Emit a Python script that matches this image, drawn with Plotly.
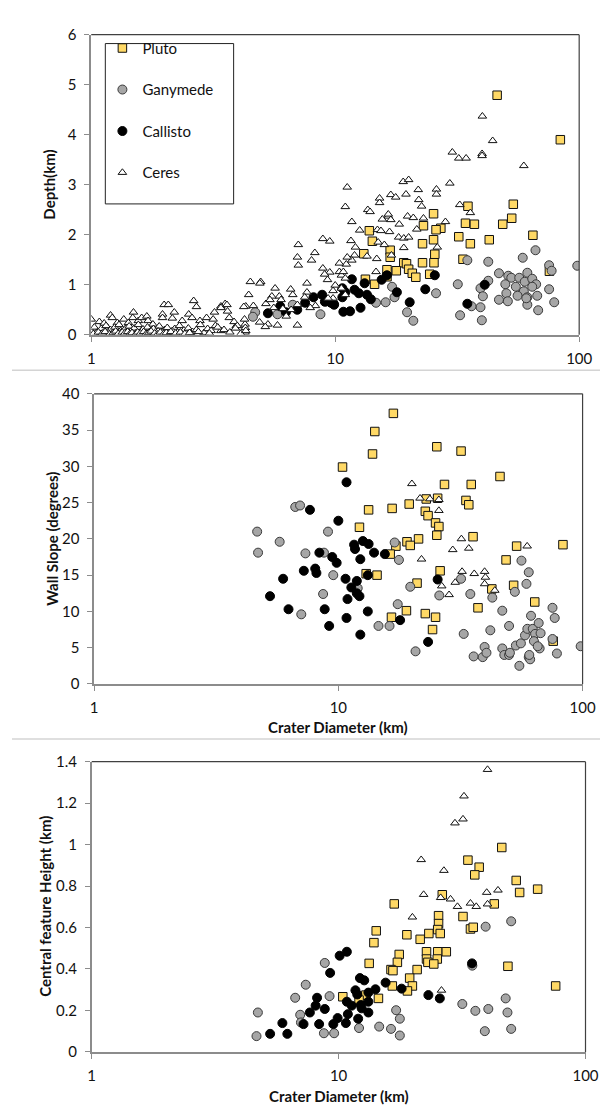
import plotly.graph_objects as go

# ---------------- Panel 1 : Depth (km) ----------------
p1_pluto_diam = [46.1, 83.7, 53.7, 35.0, 52.9, 48.6, 34.2, 37.2, 25.3, 23.0, 27.1, 25.9, 64.6, 32.1,
                 42.8, 25.3, 35.8, 22.8, 13.8, 14.2, 13.1, 16.8, 16.8, 25.6, 25.4, 22.8, 33.4, 19.1,
                 19.6, 20.0, 16.3, 17.8, 20.7, 16.3, 21.4, 24.4, 13.3, 14.5, 75.5]
p1_pluto_depth = [4.79, 3.90, 2.61, 2.57, 2.33, 2.21, 2.23, 2.21, 2.42, 2.18, 2.13, 2.10, 1.99, 1.96,
                  1.90, 1.90, 1.82, 1.82, 2.08, 1.87, 1.62, 1.69, 1.55, 1.61, 1.44, 1.44, 1.51, 1.44,
                  1.42, 1.31, 1.30, 1.28, 1.23, 1.16, 1.15, 1.21, 1.11, 1.01, 1.27]

p1_gany_diam = [98.2, 66.2, 58.7, 75.3, 77.1, 46.9, 51.2, 52.7, 56.8, 61.3, 59.8, 64.2, 66.6, 49.8,
                55.0, 59.3, 64.2, 50.3, 55.9, 61.3, 67.3, 75.3, 79.0, 46.9, 51.0, 61.3, 67.9, 60.7,
                42.4, 34.8, 31.8, 25.9, 39.4, 40.3, 39.4, 36.2, 32.5, 39.9, 42.4,
                19.7, 20.9, 17.1, 17.5, 16.1, 14.7, 8.7, 4.7, 4.6, 5.8, 6.7]
p1_gany_depth = [1.38, 1.69, 1.54, 1.39, 1.28, 1.23, 1.18, 1.14, 1.14, 1.24, 1.06, 1.12, 1.01, 1.01,
                 0.96, 0.87, 0.96, 0.83, 0.78, 0.75, 0.78, 0.91, 0.65, 0.70, 0.67, 0.60, 0.49, 0.73,
                 1.46, 1.49, 1.01, 0.83, 0.93, 0.77, 0.55, 0.57, 0.39, 0.29, 1.08,
                 0.45, 0.28, 0.96, 0.75, 0.65, 0.64, 0.41, 0.45, 0.36, 0.41, 0.60]

p1_call_diam = [5.30, 5.95, 6.28, 6.99, 7.53, 8.15, 8.84, 9.07, 9.6, 9.9, 10.8, 11.5, 11.7, 12.0,
                12.5, 12.7, 13.2, 13.5, 14.0, 15.5, 16.3, 17.9, 20.2, 23.4, 10.7, 11.0, 25.6, 34.8,
                41.0, 9.2, 9.85, 10.7]
p1_call_depth = [0.43, 0.57, 0.45, 0.50, 0.64, 0.75, 0.80, 0.66, 0.64, 0.60, 0.46, 0.47, 1.11, 0.90,
                 0.83, 0.54, 1.03, 0.80, 0.71, 1.10, 1.19, 0.85, 0.65, 0.91, 0.75, 0.85, 1.19, 0.62,
                 1.00, 0.67, 0.62, 0.93]

p1_ceres_diam = [40.1, 44.2, 40.0, 40.0, 30.2, 32.1, 34.4, 59.3, 29.5, 19.0, 20.0, 21.9, 26.0, 26.0,
                 19.5, 16.9, 17.7, 15.2, 15.2, 11.2, 11.0, 11.7, 22.0, 22.6, 32.4, 35.8, 13.6, 13.9,
                 28.3, 16.5, 16.9, 15.6, 19.8, 20.9, 23.0, 18.3, 16.7, 12.6, 11.6, 14.9, 15.4, 21.6,
                 18.2, 19.1, 20.0, 8.9, 9.5, 12.1, 15.0, 15.9, 19.1, 26.2, 14.8, 13.5, 12.0, 11.1,
                 10.4, 7.06, 8.25, 8.0, 7.0, 7.06, 8.9, 9.5, 10.4, 10.6, 11.0, 9.05, 7.66, 4.95,
                 5.67, 6.57, 5.90, 5.50, 6.70, 7.66, 7.50, 9.3, 10.6, 10.0, 9.8, 11.0, 9.8, 9.35,
                 8.3, 7.9, 7.0, 6.6, 6.3, 7.0, 5.8, 5.3, 5.17, 4.9, 6.1, 5.6, 5.2, 5.4, 6.0, 4.42,
                 4.49, 4.3, 4.27, 4.27, 3.93, 3.54, 3.4, 3.23, 3.4, 2.9, 14.7, 10.8, 11.7, 11.2,
                 16.5, 17.0,
                 1.0, 1.08, 1.13, 1.20, 1.22, 1.28, 1.36, 1.42, 1.49, 1.48, 1.56, 1.61, 1.69, 1.71,
                 1.79, 1.96, 1.99, 2.07, 1.96, 2.15, 2.19, 2.36, 2.51, 2.63, 2.70, 2.59, 2.79, 2.97,
                 3.20, 3.16, 3.40, 3.60, 3.62, 3.68, 3.85, 3.97, 4.22, 4.25, 4.28, 4.62, 4.91,
                 1.0, 1.03, 1.06, 1.1, 1.12, 1.15, 1.17, 1.2, 1.22, 1.25, 1.27, 1.3, 1.32, 1.35,
                 1.38, 1.4, 1.43, 1.45, 1.48, 1.5, 1.53, 1.56, 1.6, 1.63, 1.66, 1.7, 1.73, 1.77,
                 1.8, 1.85, 1.9, 1.95, 2.0, 2.05, 2.1, 2.15, 2.2, 2.25, 2.3, 2.4, 2.45, 2.5, 2.6,
                 2.7, 2.8, 2.9, 3.0, 3.1, 3.3, 3.5, 3.7, 3.9, 4.1, 4.3,
                 1.05, 1.18, 1.33, 1.45, 1.58, 1.75, 1.88, 2.02, 2.18, 2.35, 2.55, 2.75, 3.05,
                 1.02, 1.07, 1.11, 1.14, 1.19, 1.23, 1.26, 1.29, 1.34, 1.37, 1.41, 1.44, 1.47, 1.52,
                 1.55, 1.59, 1.64, 1.68, 1.72, 1.76, 1.82, 1.87, 1.92, 1.98, 2.03, 2.12, 2.22, 2.32,
                 2.42, 2.53]
p1_ceres_depth = [4.37, 3.88, 3.62, 3.58, 3.65, 3.53, 3.53, 3.38, 3.03, 3.06, 3.10, 2.90, 2.91, 2.81,
                  2.81, 2.80, 2.75, 2.73, 2.64, 2.95, 2.56, 2.26, 2.70, 2.57, 2.60, 2.44, 2.50, 2.46,
                  2.26, 2.37, 2.30, 2.31, 2.37, 2.34, 2.33, 2.21, 2.06, 2.09, 1.88, 2.10, 2.08, 2.11,
                  1.95, 1.93, 1.95, 1.92, 1.87, 1.75, 1.85, 1.80, 1.74, 1.75, 1.52, 1.57, 1.59, 1.41,
                  1.43, 1.80, 1.64, 1.49, 1.55, 1.39, 1.33, 1.25, 1.26, 1.19, 1.13, 1.21, 1.03, 1.06,
                  0.93, 0.91, 0.77, 0.77, 0.80, 0.85, 0.75, 1.10, 0.93, 0.99, 0.88, 0.80, 0.73, 0.73,
                  0.58, 0.54, 0.60, 0.50, 0.37, 0.19, 0.19, 0.21, 0.16, 0.25, 0.52, 0.54, 0.62, 0.70,
                  0.70, 0.80, 1.06, 0.57, 0.21, 0.05, 0.18, 0.62, 0.57, 0.18, 0.08, 0.01, 1.26, 1.26,
                  1.49, 1.55, 2.41, 1.59,
                  0.31, 0.26, 0.23, 0.39, 0.34, 0.24, 0.31, 0.24, 0.45, 0.34, 0.28, 0.34, 0.37, 0.28,
                  0.21, 0.41, 0.60, 0.60, 0.34, 0.33, 0.45, 0.28, 0.41, 0.68, 0.56, 0.34, 0.28, 0.34,
                  0.45, 0.31, 0.54, 0.60, 0.47, 0.34, 0.26, 0.18, 0.56, 0.31, 0.14, 0.58, 1.03,
                  0.08, 0.15, 0.05, 0.12, 0.03, 0.18, 0.07, 0.10, 0.02, 0.15, 0.05, 0.20, 0.08, 0.03,
                  0.12, 0.06, 0.17, 0.02, 0.09, 0.13, 0.04, 0.20, 0.07, 0.11, 0.02, 0.15, 0.05, 0.09,
                  0.12, 0.03, 0.17, 0.06, 0.10, 0.14, 0.02, 0.08, 0.12, 0.05, 0.18, 0.09, 0.03, 0.13,
                  0.06, 0.10, 0.20, 0.04, 0.12, 0.08, 0.15, 0.10, 0.05, 0.13, 0.02, 0.08,
                  0.04, 0.03, 0.05, 0.06, 0.02, 0.04, 0.07, 0.03, 0.05, 0.02, 0.04, 0.06, 0.03,
                  0.02, 0.05, 0.03, 0.06, 0.01, 0.04, 0.07, 0.02, 0.05, 0.03, 0.06, 0.02, 0.04, 0.01,
                  0.05, 0.03, 0.06, 0.02, 0.04, 0.07, 0.03, 0.01, 0.05, 0.02, 0.04, 0.06, 0.03, 0.05,
                  0.02, 0.04]

# ---------------- Panel 2 : Wall slope (degrees) ----------------
p2_pluto_diam = [16.8, 14.1, 13.8, 10.4, 25.3, 31.8, 45.9, 27.2, 35.0, 22.9, 25.5, 33.3, 34.2, 19.5,
                 16.6, 13.3, 22.7, 23.3, 25.0, 25.8, 12.2, 25.3, 35.6, 21.3, 19.1, 19.7, 17.2, 53.7,
                 83.1, 16.3, 48.6, 26.1, 13.0, 14.4, 42.5, 21.0, 52.2, 63.7, 37.3, 19.0, 16.5, 22.7,
                 25.0, 24.3, 75.8]
p2_pluto_slope = [37.3, 34.8, 31.7, 29.9, 32.7, 32.1, 28.6, 27.5, 27.5, 25.5, 25.6, 25.3, 24.7, 24.8,
                  24.2, 24.0, 23.8, 23.2, 22.2, 21.7, 21.6, 20.5, 20.3, 20.0, 19.6, 19.1, 19.0, 19.0,
                  19.2, 17.9, 17.1, 15.6, 15.2, 15.0, 13.1, 13.9, 13.6, 11.3, 10.5, 10.1, 9.2, 9.7,
                  9.2, 7.5, 5.9]

p2_gany_diam = [4.65, 4.69, 5.75, 6.66, 6.97, 7.33, 7.05, 9.07, 8.73, 8.66, 9.53, 12.0, 17.0, 17.7,
                14.6, 16.2, 17.5, 19.7, 20.7, 25.9, 31.8, 34.7, 32.6, 35.8, 39.0, 39.7, 40.4, 41.9,
                42.7, 46.9, 46.9, 47.8, 50.0, 50.4, 50.0, 52.8, 53.3, 55.1, 56.2, 55.9, 58.1, 58.9,
                60.2, 59.4, 60.2, 61.0, 60.5, 61.5, 62.5, 63.9, 63.2, 66.1, 67.3, 66.7, 65.5, 75.3,
                76.9, 75.3, 78.5, 98.2]
p2_gany_slope = [21.0, 18.1, 19.6, 24.4, 24.6, 18.0, 9.6, 21.0, 18.1, 12.4, 15.0, 13.2, 19.5, 17.1,
                 8.0, 8.0, 11.0, 13.4, 4.5, 12.2, 14.5, 12.4, 6.9, 3.8, 3.7, 5.1, 4.3, 7.4,
                 11.9, 10.1, 4.9, 4.0, 4.0, 4.3, 8.0, 12.7, 5.3, 2.5, 17.0, 5.6, 6.7, 13.8,
                 15.4, 7.6, 3.7, 3.4, 4.0, 9.4, 7.6, 6.9, 5.9, 8.4, 7.0, 4.9, 5.2, 10.5,
                 9.1, 6.2, 4.2, 5.2]

p2_call_diam = [10.8, 7.65, 10.0, 12.6, 11.6, 11.7, 13.3, 14.0, 15.5, 8.36, 9.44, 9.84, 12.3, 8.04,
                8.13, 7.22, 5.94, 5.25, 6.25, 8.79, 9.17, 10.7, 11.9, 13.2, 11.3, 11.9, 12.2, 10.9,
                10.8, 13.2, 12.3, 17.9, 23.3, 25.5]
p2_call_slope = [27.8, 24.0, 22.5, 19.7, 19.2, 18.6, 19.3, 18.1, 17.9, 18.1, 17.5, 16.7, 17.2, 15.9,
                 15.3, 15.6, 14.5, 12.1, 10.3, 10.3, 8.0, 14.5, 14.2, 15.0, 13.3, 12.5, 12.1, 11.7,
                 9.1, 10.0, 6.8, 8.8, 5.8, 14.4]

p2_ceres_diam = [20.0, 21.6, 25.8, 25.8, 21.9, 29.4, 31.9, 34.2, 32.1, 30.1, 26.5, 28.4, 36.0, 39.7,
                 40.0, 39.7, 43.7, 59.3, 23.7]
p2_ceres_slope = [27.6, 25.6, 25.4, 23.9, 17.2, 18.5, 20.0, 18.7, 15.5, 14.0, 13.5, 12.3, 15.2, 15.5,
                  14.7, 13.8, 12.9, 19.0, 25.5]

# ---------------- Panel 3 : Central feature height (km) ----------------
p3_pluto_diam = [45.8, 33.4, 37.1, 35.6, 52.4, 54.1, 64.0, 42.7, 16.8, 26.3, 31.9, 25.4, 25.4, 25.2,
                 25.8, 23.2, 18.9, 21.4, 34.2, 35.1, 14.2, 13.9, 22.7, 25.2, 27.3, 22.7, 25.1, 23.0,
                 24.3, 17.6, 17.3, 16.3, 16.6, 20.8, 13.3, 48.5, 19.4, 19.9, 16.5, 19.0, 10.4, 12.9,
                 12.1, 14.5, 75.7]
p3_pluto_height = [0.986, 0.925, 0.891, 0.854, 0.827, 0.769, 0.785, 0.714, 0.714, 0.758, 0.653, 0.657,
                   0.619, 0.590, 0.571, 0.571, 0.565, 0.543, 0.593, 0.601, 0.584, 0.527, 0.483, 0.483,
                   0.483, 0.448, 0.448, 0.432, 0.424, 0.470, 0.432, 0.397, 0.392, 0.397, 0.427, 0.413,
                   0.356, 0.318, 0.318, 0.294, 0.266, 0.274, 0.250, 0.258, 0.318]

p3_gany_diam = [50.0, 39.4, 34.8, 47.5, 48.3, 50.0, 39.1, 40.4, 35.8, 31.7, 17.7, 17.7, 17.1, 16.3,
                14.6, 12.1, 9.59, 8.72, 9.19, 8.79, 7.36, 6.67, 6.99, 7.04, 4.71, 4.65]
p3_gany_height = [0.630, 0.604, 0.416, 0.258, 0.190, 0.111, 0.100, 0.207, 0.198, 0.231, 0.079, 0.160,
                  0.201, 0.111, 0.122, 0.115, 0.090, 0.090, 0.269, 0.429, 0.324, 0.261, 0.179, 0.142,
                  0.190, 0.076]

p3_call_diam = [5.28, 6.20, 5.92, 7.21, 7.65, 8.07, 8.18, 8.79, 8.34, 9.24, 10.1, 10.8, 9.52, 9.91,
                10.7, 10.9, 12.0, 10.8, 11.3, 11.7, 11.9, 12.3, 12.4, 12.2, 12.7, 13.2, 13.2, 13.2,
                14.1, 15.5, 18.0, 23.1, 25.7, 34.7]
p3_call_height = [0.087, 0.087, 0.139, 0.134, 0.190, 0.223, 0.261, 0.207, 0.134, 0.381, 0.464, 0.483,
                  0.134, 0.163, 0.139, 0.182, 0.160, 0.242, 0.223, 0.297, 0.277, 0.226, 0.210, 0.356,
                  0.345, 0.286, 0.190, 0.242, 0.302, 0.334, 0.305, 0.274, 0.258, 0.427]

p3_ceres_diam = [40.1, 32.2, 31.9, 29.6, 21.6, 26.7, 22.1, 25.9, 28.4, 30.3, 34.2, 36.1, 39.8, 44.2,
                 40.1, 19.9, 26.1]
p3_ceres_height = [1.362, 1.234, 1.123, 1.104, 0.927, 0.875, 0.759, 0.744, 0.737, 0.701, 0.717, 0.701,
                   0.769, 0.780, 0.713, 0.650, 0.297]

series_names = ["Pluto", "Ganymede", "Callisto", "Ceres"]
x_tick_vals = [1, 10, 100]
x_tick_text = ["1", "10", "100"]

FONT = "Lato, 'Open Sans', sans-serif"
W, H = 608, 1105

styles = {
    "Pluto": dict(symbol="square", size=8.5, color="#FFD966", line=dict(color="#111111", width=1)),
    "Ganymede": dict(symbol="circle", size=9, color="#A6A6A6", line=dict(color="#3a3a3a", width=1)),
    "Callisto": dict(symbol="circle", size=9, color="#000000", line=dict(color="#000000", width=1)),
    "Ceres": dict(symbol="triangle-up", size=7.5, color="#FFFFFF", line=dict(color="#111111", width=1)),
}

panels = [
    dict(data=[(p1_pluto_diam, p1_pluto_depth), (p1_gany_diam, p1_gany_depth),
               (p1_call_diam, p1_call_depth), (p1_ceres_diam, p1_ceres_depth)],
         px=(81.5, 583.5), py=(17, 322), yrange=[0, 6], dtick=1, ytitle="Depth(km)", ytx=38,
         xtitle=None),
    dict(data=[(p2_pluto_diam, p2_pluto_slope), (p2_gany_diam, p2_gany_slope),
               (p2_call_diam, p2_call_slope), (p2_ceres_diam, p2_ceres_slope)],
         px=(84.5, 587), py=(382, 677), yrange=[0, 40], dtick=5, ytitle="Wall Slope (degrees)", ytx=41,
         xtitle="Crater Diameter (km)", xty=721),
    dict(data=[(p3_pluto_diam, p3_pluto_height), (p3_gany_diam, p3_gany_height),
               (p3_call_diam, p3_call_height), (p3_ceres_diam, p3_ceres_height)],
         px=(82, 590), py=(756, 1051), yrange=[0, 1.4], dtick=0.2, ytitle="Central feature Height (km)",
         ytx=34, xtitle="Crater Diameter (km)", xty=1096),
]

fig = go.Figure()
shapes = []
annotations = []

for i, p in enumerate(panels):
    k = "" if i == 0 else str(i + 1)
    xa = "x" + k
    ya = "y" + k
    for j, (xs, ys) in enumerate(p["data"]):
        name = series_names[j]
        fig.add_trace(go.Scatter(
            x=xs, y=ys, mode="markers", name=name, xaxis=xa, yaxis=ya,
            marker=styles[name], showlegend=(i == 0), legendgroup=name,
            hoverinfo="x+y"))
    x0, x1 = p["px"]
    y0, y1 = p["py"]
    fig.update_layout(**{
        "xaxis" + k: dict(domain=[x0 / W, x1 / W], anchor=ya, type="log", range=[0, 2],
                          tickvals=x_tick_vals, ticktext=x_tick_text, showgrid=False, zeroline=False,
                          showline=True, linecolor="#8c8c8c", linewidth=1.5, ticks="outside",
                          ticklen=5, tickcolor="#8c8c8c", tickwidth=1,
                          tickfont=dict(family=FONT, size=15, color="#111111"),
                          ticklabelstandoff=4),
        "yaxis" + k: dict(domain=[1 - y1 / H, 1 - y0 / H], anchor=xa, range=p["yrange"],
                          dtick=p["dtick"], tick0=0, showgrid=False, zeroline=False,
                          showline=True, linecolor="#8c8c8c", linewidth=1.5, ticks="outside",
                          ticklen=5, tickcolor="#8c8c8c", tickwidth=1,
                          tickfont=dict(family=FONT, size=15, color="#111111"),
                          ticklabelstandoff=5),
    })
    # top and right frame of the plot area
    shapes.append(dict(type="line", xref="paper", yref="paper", x0=x0 / W, x1=x1 / W,
                       y0=1 - y0 / H, y1=1 - y0 / H, line=dict(color="#404040", width=1.2)))
    shapes.append(dict(type="line", xref="paper", yref="paper", x0=x1 / W, x1=x1 / W,
                       y0=1 - y0 / H, y1=1 - y1 / H, line=dict(color="#404040", width=1.2)))
    annotations.append(dict(text="<b>%s</b>" % p["ytitle"], xref="paper", yref="paper",
                            x=p["ytx"] / W, y=1 - (y0 + y1) / 2 / H, textangle=-90, showarrow=False,
                            xanchor="center", yanchor="middle",
                            font=dict(family=FONT, size=15, color="#111111")))
    if p["xtitle"]:
        annotations.append(dict(text="<b>%s</b>" % p["xtitle"], xref="paper", yref="paper",
                                x=(x0 + x1) / 2 / W, y=1 - p["xty"] / H, showarrow=False,
                                xanchor="center", yanchor="middle",
                                font=dict(family=FONT, size=15, color="#111111")))

# legend frame
shapes.append(dict(type="rect", xref="paper", yref="paper", x0=96 / W, x1=228 / W,
                   y0=1 - 189 / H, y1=1 - 26 / H, line=dict(color="#222222", width=1),
                   fillcolor="white", layer="below"))
# separators between the stacked panels
for yy in (358, 733):
    shapes.append(dict(type="line", xref="paper", yref="paper", x0=0, x1=1,
                       y0=1 - yy / H, y1=1 - yy / H, line=dict(color="#d4d4d4", width=1.5)))
shapes.append(dict(type="line", xref="paper", yref="paper", x0=606 / W, x1=606 / W,
                   y0=1 - 733 / H, y1=1, line=dict(color="#d4d4d4", width=1.5)))

fig.update_layout(
    width=W, height=H, margin=dict(l=0, r=0, t=0, b=0),
    paper_bgcolor="white", plot_bgcolor="rgba(0,0,0,0)",
    shapes=shapes, annotations=annotations,
    legend=dict(x=93 / W, y=1 - 14 / H, xanchor="left", yanchor="top",
                bgcolor="rgba(0,0,0,0)", borderwidth=0, tracegroupgap=19,
                font=dict(family=FONT, size=15, color="#111111")),
)

fig.write_html("out.html")
